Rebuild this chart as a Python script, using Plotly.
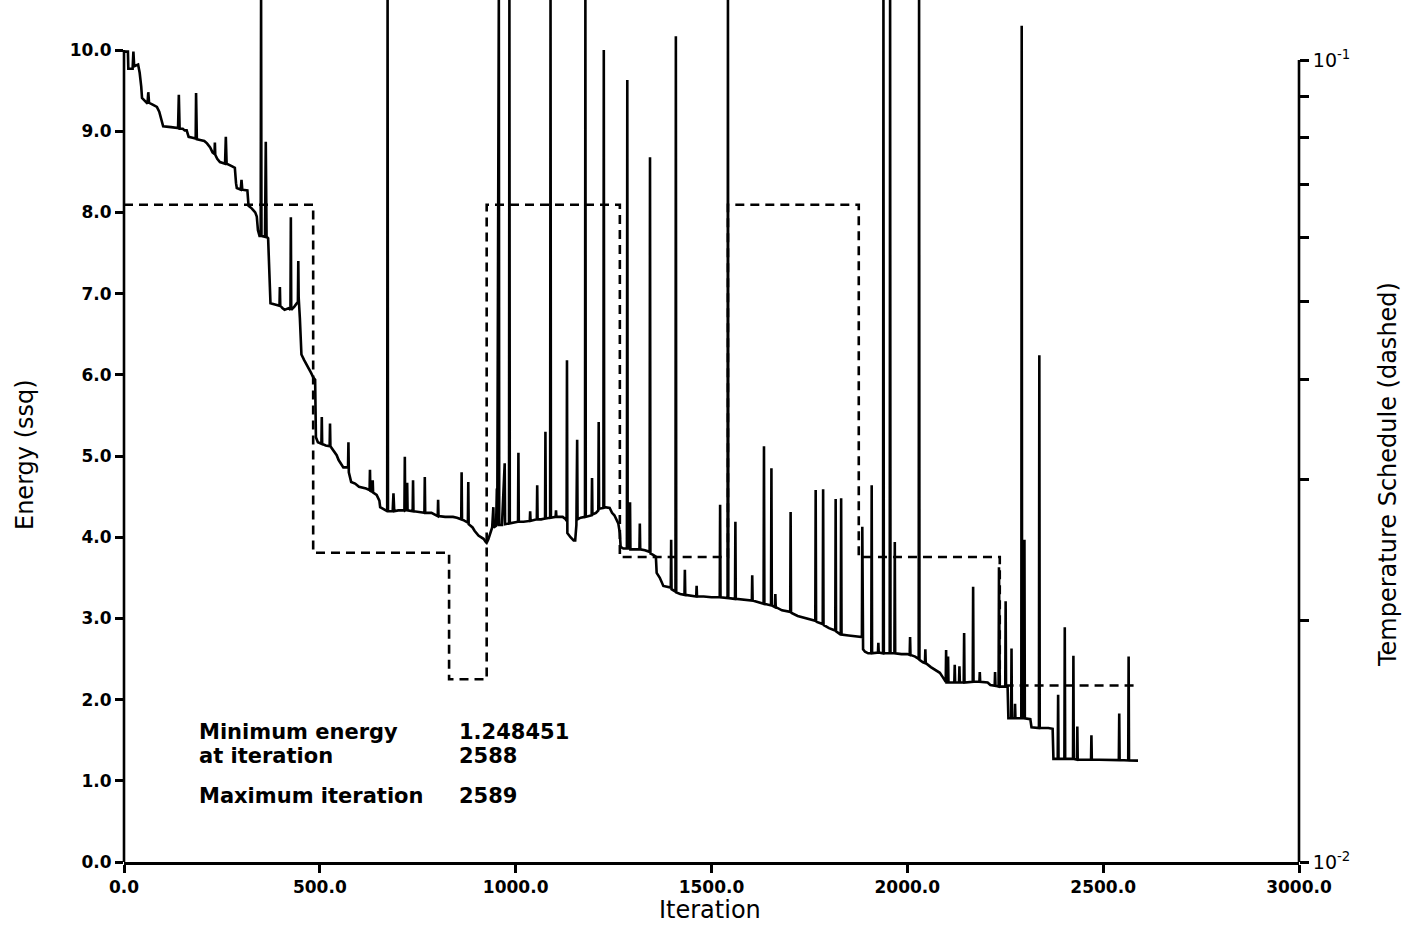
import plotly.graph_objects as go

# ---------------------------------------------------------------------------
# Energy (sum of squares) per iteration, grouped by temperature stage
# ---------------------------------------------------------------------------
iter_stage1 = [0, 10, 11, 22, 24, 26, 36, 40, 44, 46, 52, 56, 60, 62, 64, 72, 78, 84, 90, 96,
               100, 120, 138, 140, 142, 150, 155, 160, 165, 175, 183, 184, 186, 205, 212, 220,
               226, 231, 232, 233, 238, 245, 258, 260, 262, 275, 283, 286, 288, 298, 300, 302,
               315, 318, 326, 335, 339, 342, 346, 349, 350, 351, 360, 362, 364, 368, 372, 374,
               390, 397, 398, 399, 405, 410, 420, 425, 426, 427, 435, 440, 444, 445, 446, 449,
               451, 453, 460, 470, 478, 483]
energy_stage1 = [9.98, 9.98, 9.77, 9.77, 9.98, 9.80, 9.82, 9.72, 9.55, 9.41, 9.38, 9.36, 9.34, 9.48,
                 9.35, 9.33, 9.31, 9.30, 9.24, 9.14, 9.06, 9.05, 9.04, 9.45, 9.03, 9.03, 9.01, 9.01,
                 8.93, 8.92, 8.91, 9.47, 8.90, 8.88, 8.85, 8.80, 8.74, 8.72, 8.86, 8.71, 8.66, 8.62,
                 8.60, 8.93, 8.60, 8.57, 8.55, 8.36, 8.30, 8.28, 8.40, 8.28, 8.27, 8.08, 8.05, 8.00,
                 7.95, 7.78, 7.71, 7.71, 10.70, 7.71, 7.70, 8.87, 7.70, 7.68, 6.95, 6.88, 6.86, 6.85,
                 7.08, 6.85, 6.82, 6.80, 6.82, 6.80, 7.94, 6.80, 6.84, 6.87, 6.90, 7.40, 6.95, 6.70,
                 6.40, 6.25, 6.18, 6.10, 6.02, 5.97]

iter_stage2 = [488, 490, 495, 504, 505, 506, 515, 525, 526, 527, 535, 543, 548, 555, 560, 572, 573,
               574, 580, 590, 600, 618, 627, 628, 629, 634, 635, 636, 645, 652, 654, 665, 672, 673,
               674, 686, 688, 690, 700, 716, 717, 718, 722, 723, 724, 737, 738, 739, 750, 767, 768,
               769, 785, 795, 801, 802, 803, 820, 840, 850, 861, 862, 863, 870, 878, 879, 880, 890,
               895, 905, 912, 918, 924, 926]
energy_stage2 = [5.94, 5.23, 5.17, 5.15, 5.48, 5.15, 5.13, 5.12, 5.40, 5.12, 5.07, 5.01, 4.95, 4.90,
                 4.86, 4.86, 5.17, 4.80, 4.68, 4.66, 4.62, 4.60, 4.58, 4.83, 4.57, 4.56, 4.70, 4.55,
                 4.52, 4.45, 4.37, 4.34, 4.32, 10.70, 4.32, 4.32, 4.54, 4.32, 4.33, 4.33, 4.99, 4.33,
                 4.34, 4.67, 4.33, 4.32, 4.70, 4.32, 4.31, 4.30, 4.74, 4.30, 4.30, 4.28, 4.26, 4.46,
                 4.26, 4.25, 4.25, 4.24, 4.22, 4.80, 4.22, 4.20, 4.18, 4.68, 4.16, 4.12, 4.08, 4.02,
                 4.00, 3.98, 3.94, 3.93]

iter_stage3 = [930, 935, 940, 943, 944, 950, 952, 953, 957, 958, 965, 972, 973, 983, 984, 985, 995,
               1006, 1007, 1008, 1020, 1036, 1037, 1038, 1054, 1055, 1056, 1065, 1075, 1076, 1077,
               1088, 1089, 1090, 1102, 1103, 1104, 1120, 1128, 1130, 1131, 1132, 1140, 1148, 1152,
               1155, 1157, 1158, 1166, 1177, 1178, 1179, 1194, 1195, 1196, 1205, 1211, 1212, 1213,
               1224, 1225, 1226, 1240, 1246, 1252, 1258, 1262, 1266]
energy_stage3 = [3.97, 4.05, 4.12, 4.37, 4.12, 4.14, 4.60, 4.14, 10.70, 4.15, 4.15, 4.91, 4.16, 4.17,
                 10.70, 4.17, 4.18, 4.19, 5.04, 4.19, 4.19, 4.20, 4.32, 4.20, 4.22, 4.64, 4.22, 4.22,
                 4.23, 5.30, 4.23, 4.24, 10.70, 4.24, 4.25, 4.33, 4.25, 4.25, 4.22, 4.20, 6.18, 4.05,
                 4.00, 3.96, 3.96, 4.15, 5.20, 4.22, 4.24, 4.25, 10.70, 4.25, 4.27, 4.73, 4.28, 4.30,
                 4.33, 5.42, 4.35, 4.36, 10.00, 4.37, 4.36, 4.30, 4.27, 4.22, 4.17, 4.05]

iter_stage4 = [1268, 1275, 1284, 1285, 1286, 1291, 1292, 1293, 1305, 1316, 1317, 1318, 1330, 1342,
               1343, 1344, 1352, 1358, 1360, 1368, 1377, 1390, 1396, 1397, 1398, 1408, 1409, 1410,
               1420, 1431, 1432, 1433, 1445, 1461, 1462, 1463, 1480, 1500, 1521, 1522, 1523, 1535,
               1541, 1542]
energy_stage4 = [3.88, 3.86, 3.86, 9.63, 3.86, 3.86, 4.43, 3.85, 3.85, 3.85, 4.17, 3.85, 3.84, 3.82,
                 8.68, 3.80, 3.78, 3.76, 3.56, 3.50, 3.40, 3.38, 3.38, 3.97, 3.36, 3.33, 10.17, 3.32,
                 3.30, 3.29, 3.60, 3.29, 3.28, 3.27, 3.40, 3.27, 3.27, 3.26, 3.26, 4.40, 3.26, 3.25,
                 3.25, 10.70]

iter_stage5 = [1543, 1560, 1561, 1562, 1580, 1603, 1604, 1605, 1620, 1633, 1634, 1635, 1652, 1653,
               1654, 1662, 1663, 1664, 1680, 1701, 1702, 1703, 1720, 1740, 1765, 1766, 1767, 1784,
               1785, 1786, 1800, 1816, 1817, 1818, 1830, 1831, 1832, 1850, 1865, 1876]
energy_stage5 = [3.25, 3.24, 4.19, 3.24, 3.23, 3.22, 3.53, 3.22, 3.20, 3.18, 5.12, 3.18, 3.16, 4.85,
                 3.16, 3.14, 3.30, 3.14, 3.10, 3.08, 4.31, 3.07, 3.03, 3.00, 2.97, 4.58, 2.96, 2.93,
                 4.59, 2.92, 2.88, 2.85, 4.47, 2.84, 2.80, 4.48, 2.80, 2.79, 2.78, 2.77]

iter_stage6 = [1884, 1885, 1887, 1892, 1900, 1908, 1909, 1910, 1925, 1926, 1927, 1938, 1939, 1940,
               1955, 1956, 1957, 1967, 1968, 1969, 1985, 2000, 2006, 2007, 2008, 2020, 2029, 2030,
               2031, 2040, 2045, 2046, 2047, 2060, 2075, 2083, 2090, 2098, 2099, 2100, 2103, 2104,
               2105, 2120, 2121, 2122, 2132, 2133, 2134, 2144, 2145, 2146, 2167, 2168, 2169, 2184,
               2185, 2186, 2205, 2212, 2223, 2224, 2225, 2233, 2234, 2235, 2236]
energy_stage6 = [2.77, 4.13, 2.62, 2.59, 2.57, 2.57, 4.64, 2.57, 2.58, 2.70, 2.58, 2.57, 10.70, 2.57,
                 2.57, 10.70, 2.57, 2.57, 3.94, 2.57, 2.56, 2.56, 2.55, 2.77, 2.55, 2.53, 2.50, 10.70,
                 2.49, 2.46, 2.45, 2.62, 2.45, 2.40, 2.36, 2.33, 2.28, 2.22, 2.61, 2.21, 2.21, 2.53,
                 2.21, 2.21, 2.43, 2.21, 2.21, 2.41, 2.21, 2.21, 2.82, 2.21, 2.22, 3.39, 2.22, 2.22,
                 2.34, 2.22, 2.21, 2.18, 2.17, 2.34, 2.17, 2.16, 3.63, 2.16, 2.16]

iter_stage7 = [2250, 2251, 2252, 2256, 2258, 2265, 2266, 2267, 2274, 2275, 2276, 2291, 2292, 2293,
               2298, 2299, 2300, 2314, 2317, 2330, 2336, 2337, 2338, 2350, 2360, 2371, 2373, 2384,
               2385, 2386, 2401, 2402, 2403, 2423, 2424, 2425, 2433, 2434, 2435, 2450, 2469, 2470,
               2471, 2490, 2510, 2540, 2541, 2542, 2564, 2565, 2566, 2580, 2588, 2589]
energy_stage7 = [2.16, 3.21, 2.16, 2.16, 1.77, 1.77, 2.63, 1.77, 1.77, 1.95, 1.77, 1.77, 10.30, 1.77,
                 1.77, 3.97, 1.77, 1.76, 1.66, 1.65, 1.65, 6.24, 1.65, 1.65, 1.65, 1.64, 1.27, 1.27,
                 2.06, 1.27, 1.27, 2.89, 1.27, 1.27, 2.54, 1.27, 1.26, 1.67, 1.26, 1.26, 1.26, 1.56,
                 1.26, 1.26, 1.255, 1.255, 1.83, 1.255, 1.25, 2.53, 1.25, 1.25, 1.248451, 1.248451]

# Temperature schedule: level held from each stage start until the next one
stage_start = [0, 483, 830, 926, 1266, 1542, 1876, 2236]
temperature = [0.066, 0.0243, 0.0169, 0.066, 0.024, 0.066, 0.024, 0.0166]
last_iteration = 2589

# Summary text
min_energy_text = "1.248451"
min_iter_text = "2588"
max_iter_text = "2589"

# Axis ticks
x_ticks = [0, 500, 1000, 1500, 2000, 2500, 3000]
y_ticks = [0, 1, 2, 3, 4, 5, 6, 7, 8, 9, 10]
t_major = [0.01, 0.1]
t_minor = [0.02, 0.03, 0.04, 0.05, 0.06, 0.07, 0.08, 0.09]

# ---------------------------------------------------------------------------
iterations = (iter_stage1 + iter_stage2 + iter_stage3 + iter_stage4 +
              iter_stage5 + iter_stage6 + iter_stage7)
energies = (energy_stage1 + energy_stage2 + energy_stage3 + energy_stage4 +
            energy_stage5 + energy_stage6 + energy_stage7)

sched_x = stage_start + [last_iteration]
sched_y = temperature + [temperature[-1]]

# Page geometry (pixels)
W, H = 1406, 936
PL, PR, PT, PB = 124, 1299, 0, 862
PX_PER_E = 81.2              # pixels per energy unit
PX_PER_DECADE = 802.0        # pixels per decade on the temperature axis

y_top = (PB - PT) / PX_PER_E
t_top = -2 + (PB - PT) / PX_PER_DECADE


def px(xp):
    return (xp - PL) / (PR - PL)


def py(yp):
    return (PB - yp) / (PB - PT)


FONT = "DejaVu Sans"
AXIS_W = 2.6

fig = go.Figure()

fig.add_trace(go.Scatter(
    x=iterations, y=energies, mode="lines",
    line=dict(color="black", width=2.6),
    showlegend=False, hoverinfo="skip",
))

fig.add_trace(go.Scatter(
    x=sched_x, y=sched_y, mode="lines", yaxis="y2",
    line=dict(color="black", width=2.6, dash="9px,6px", shape="hv"),
    showlegend=False, hoverinfo="skip",
))

tick_font = dict(family=FONT, size=17, color="black", weight="bold")

fig.update_layout(
    width=W, height=H,
    margin=dict(l=PL, r=W - PR, t=PT, b=H - PB, pad=0),
    paper_bgcolor="white", plot_bgcolor="white",
    xaxis=dict(
        range=[0, 3000], tickvals=x_ticks,
        ticktext=[f"{v:.1f}" for v in x_ticks],
        ticks="outside", ticklen=8, tickwidth=AXIS_W, tickcolor="black",
        showline=True, linecolor="black", linewidth=AXIS_W,
        showgrid=False, zeroline=False, tickfont=tick_font,
    ),
    yaxis=dict(
        range=[0, y_top], tickvals=y_ticks,
        ticktext=[f"{v:.1f}" for v in y_ticks],
        ticks="outside", ticklen=8, tickwidth=AXIS_W, tickcolor="black",
        showline=False, showgrid=False, zeroline=False, tickfont=tick_font,
    ),
    yaxis2=dict(
        type="log", range=[-2, t_top], overlaying="y", side="right",
        tickvals=t_major,
        ticktext=["10<sup>-2</sup>", "10<sup>-1</sup>"],
        ticks="outside", ticklen=9, tickwidth=AXIS_W, tickcolor="black",
        minor=dict(tickvals=t_minor, ticks="outside", ticklen=9,
                   tickwidth=AXIS_W, tickcolor="black", showgrid=False),
        showline=False, showgrid=False, zeroline=False,
        tickfont=dict(family=FONT, size=19, color="black"),
    ),
    shapes=[
        # left energy axis stops at 10.0
        dict(type="line", xref="paper", yref="paper", x0=0, x1=0,
             y0=0, y1=10 * PX_PER_E / (PB - PT),
             line=dict(color="black", width=AXIS_W)),
        # right temperature axis stops at 10^-1
        dict(type="line", xref="paper", yref="paper", x0=1, x1=1,
             y0=0, y1=PX_PER_DECADE / (PB - PT),
             line=dict(color="black", width=AXIS_W)),
    ],
)

title_font = dict(family=FONT, size=24, color="black")
info_font = dict(family=FONT, size=21, color="black", weight="bold")

annotations = [
    dict(text="Energy (ssq)", x=px(25), y=py(455), textangle=-90, font=title_font),
    dict(text="Temperature Schedule (dashed)", x=px(1388), y=py(475), textangle=-90,
         font=title_font),
    dict(text="Iteration", x=px(710), y=py(910), font=title_font),
    dict(text="Minimum energy", x=px(197), y=py(732), xanchor="left", font=info_font),
    dict(text="at iteration", x=px(197), y=py(756), xanchor="left", font=info_font),
    dict(text="Maximum iteration", x=px(197), y=py(796), xanchor="left", font=info_font),
    dict(text=min_energy_text, x=px(457), y=py(732), xanchor="left", font=info_font),
    dict(text=min_iter_text, x=px(457), y=py(756), xanchor="left", font=info_font),
    dict(text=max_iter_text, x=px(457), y=py(796), xanchor="left", font=info_font),
]
for a in annotations:
    a.update(xref="paper", yref="paper", showarrow=False)
    a.setdefault("xanchor", "center")
    a.setdefault("yanchor", "middle")
fig.update_layout(annotations=annotations)

fig.write_html("out.html")
